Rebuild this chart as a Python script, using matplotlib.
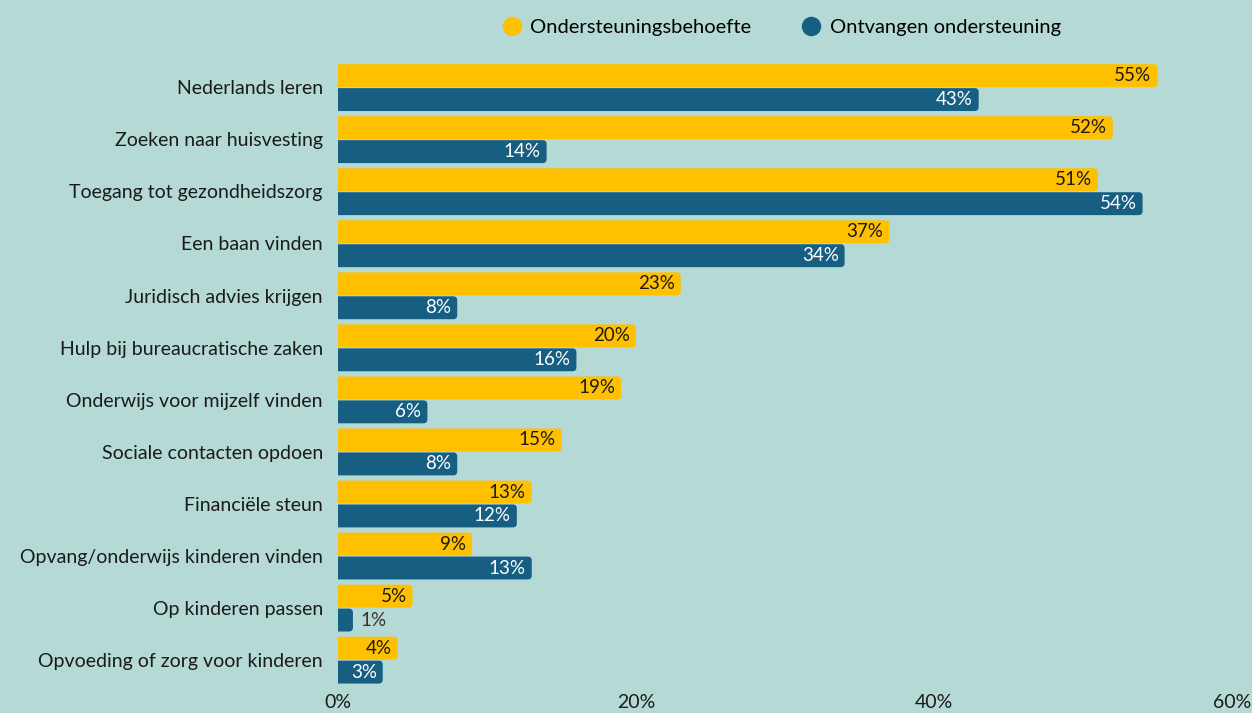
import matplotlib
matplotlib.use("Agg")
import matplotlib.pyplot as plt
from matplotlib.patches import FancyBboxPatch
from matplotlib.lines import Line2D

categories = ["Nederlands leren", "Zoeken naar huisvesting", "Toegang tot gezondheidszorg",
              "Een baan vinden", "Juridisch advies krijgen", "Hulp bij bureaucratische zaken",
              "Onderwijs voor mijzelf vinden", "Sociale contacten opdoen", "Financiële steun",
              "Opvang/onderwijs kinderen vinden", "Op kinderen passen",
              "Opvoeding of zorg voor kinderen"]
behoefte = [55, 52, 51, 37, 23, 20, 19, 15, 13, 9, 5, 4]
ontvangen = [43, 14, 54, 34, 8, 16, 6, 8, 12, 13, 1, 3]
xticks = [0, 20, 40, 60]

bg = "#b5dad5"
yellow = "#ffc000"
blue = "#175f82"

plt.rcParams['font.family'] = ['Lato', 'DejaVu Sans']

fig = plt.figure(figsize=(12.52, 7.13), dpi=100, facecolor=bg)
ax = fig.add_axes([0.27, 0.038, 0.714, 0.876], facecolor=bg)
ax.set_xlim(0, 60)
ax.set_ylim(len(categories) - 0.5, -0.5)

# pixel scale for rounded corners
x_px = 0.714 * 1252 / 60
y_px = 0.876 * 713 / len(categories)
r = 4 / x_px
aspect = x_px / y_px

h = 0.44
for i, (a, b) in enumerate(zip(behoefte, ontvangen)):
    for v, off, col, tc in [(a, -0.225, yellow, "#1a1a1a"), (b, 0.235, blue, "white")]:
        p = FancyBboxPatch((-2, i + off - h / 2), v + 2, h,
                           boxstyle=f"round,pad=0,rounding_size={r}",
                           mutation_aspect=aspect, fc=col, ec="none")
        ax.add_patch(p)
        if v >= 3:
            ax.text(v - 0.4, i + off, f"{v}%", ha="right", va="center",
                    color=tc, fontsize=13.5)
        else:
            ax.text(v + 0.5, i + off, f"{v}%", ha="left", va="center",
                    color="#333333", fontsize=13.5)

ax.set_yticks(range(len(categories)))
ax.set_yticklabels(categories, fontsize=14, color="#1a1a1a")
ax.set_xticks(xticks)
ax.set_xticklabels([f"{t}%" for t in xticks], fontsize=14, color="#1a1a1a")
ax.tick_params(length=0)
ax.tick_params(axis="y", pad=11)
ax.tick_params(axis="x", pad=6)
for s in ax.spines.values():
    s.set_visible(False)

handles = [Line2D([], [], marker="o", ls="none", ms=14, mfc=yellow, mec="none"),
           Line2D([], [], marker="o", ls="none", ms=14, mfc=blue, mec="none")]
fig.legend(handles, ["Ondersteuningsbehoefte", "Ontvangen ondersteuning"],
           loc="center", bbox_to_anchor=(0.624, 0.962), ncol=2, frameon=False,
           fontsize=14.5, handletextpad=0.4, columnspacing=2.5, handlelength=1)

fig.savefig("out.png", dpi=100, facecolor=bg)
